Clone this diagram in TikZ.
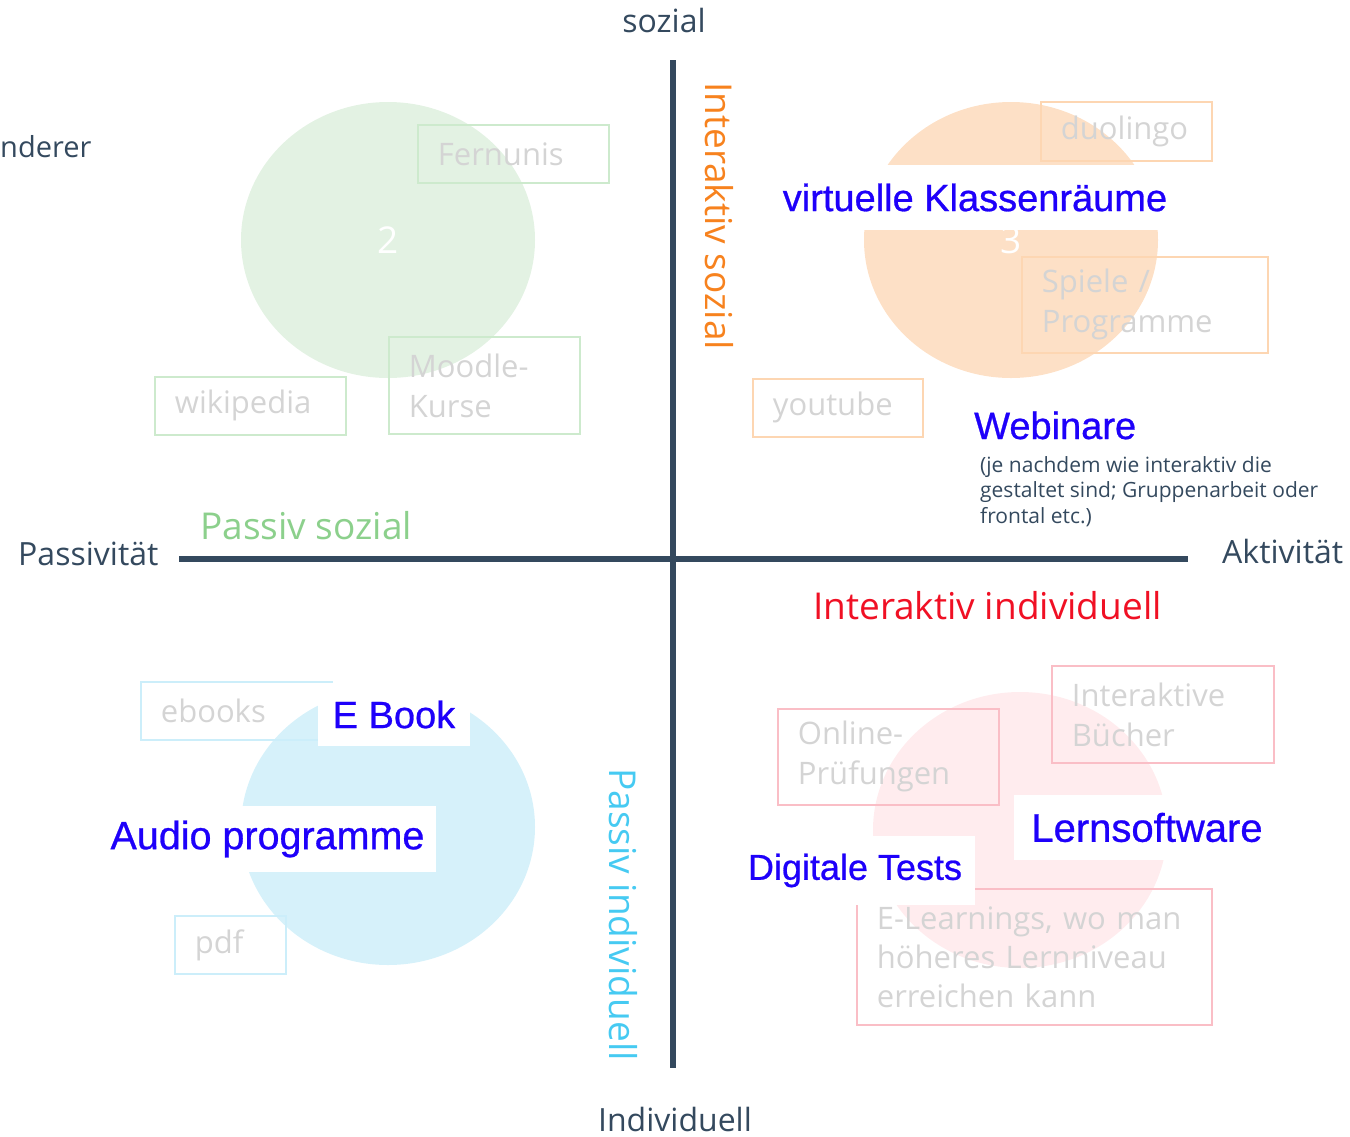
\documentclass[tikz,border=0pt]{standalone}
\usepackage{fontspec}
\setmainfont{Open Sans}
\newfontfamily\labelfont[FakeBold=0.7]{Liberation Sans}
\usetikzlibrary{shapes.geometric}

\definecolor{axiscol}{RGB}{52,73,94}
\definecolor{itemgray}{RGB}{212,212,212}
\definecolor{tagblue}{RGB}{30,0,250}
\definecolor{greenfill}{RGB}{227,242,227}
\definecolor{greenline}{RGB}{205,234,205}
\definecolor{greentext}{RGB}{140,208,140}
\definecolor{orangefill}{RGB}{253,224,198}
\definecolor{orangeline}{RGB}{253,214,178}
\definecolor{orangetext}{RGB}{247,130,30}
\definecolor{pinkfill}{RGB}{255,236,238}
\definecolor{pinkline}{RGB}{250,190,198}
\definecolor{redtext}{RGB}{240,16,36}
\definecolor{cyanfill}{RGB}{214,241,250}
\definecolor{cyanline}{RGB}{204,238,250}
\definecolor{cyantext}{RGB}{70,202,242}

\begin{document}
\begin{tikzpicture}[
  x=1pt, y=-1pt,
  every node/.style={inner sep=0pt},
  axislabel/.style={text=axiscol, font=\fontsize{32}{38}\selectfont},
  blob/.style={ellipse, fill=#1, minimum width=294pt, minimum height=276pt,
    text=white, font=\fontsize{37}{44}\selectfont},
  item/.style={draw=#1, line width=1.8pt, anchor=north west, inner xsep=20pt,
    align=left, text=itemgray, font=\fontsize{31}{40}\selectfont},
  tag/.style={fill=white, text=tagblue, font=\labelfont\fontsize{38}{44}\selectfont},
  quadrant/.style={text=#1, font=\fontsize{37}{44}\selectfont}
]
\useasboundingbox (0,0) rectangle (1350,1136);

\node[blob=greenfill] (social2) at (388,240) {2};
\node[blob=orangefill] (social3) at (1011,240) {3};
\node[blob=cyanfill] (single1) at (388,827) {};
\node[blob=pinkfill] (single4) at (1020,830) {};

\node[item=greenline, text width=151pt, minimum height=58pt] (fernunis) at (417,124) {Fernunis};
\node[item=greenline, text width=151pt, minimum height=97pt] (moodle) at (388,336) {Moodle-\\Kurse};
\node[item=greenline, text width=151pt, minimum height=58pt] (wiki) at (154,376) {wikipedia};
\node[item=orangeline, text width=131pt, minimum height=59pt] (duolingo) at (1040,101) {duolingo};
\node[item=orangeline, text width=206pt, minimum height=96pt] (spiele) at (1021,256) {Spiele /\\Programme};
\node[item=orangeline, text width=130pt, minimum height=58pt] (youtube) at (752,378) {youtube};
\node[item=cyanline, text width=151pt, minimum height=58pt] (ebooks) at (140,681) {ebooks};
\node[item=cyanline, text width=71pt, minimum height=58pt] (pdf) at (174,915) {pdf};
\node[item=pinkline, text width=181pt, minimum height=96pt] (online) at (777,708) {Online-\\Prüfungen};
\node[item=pinkline, text width=182pt, minimum height=97pt] (buecher) at (1051,665) {Interaktive\\Bücher};
\node[item=pinkline, text width=315pt, minimum height=136pt, font=\fontsize{31}{39}\selectfont]
  (elearn) at (856,888) {E-Learnings, wo man\\höheres Lernniveau\\erreichen kann};

\coordinate (top) at (673,60);
\coordinate (bottom) at (673,1068);
\coordinate (left) at (179,559);
\coordinate (right) at (1188,559);
\draw[axiscol, line width=6pt] (top) -- (bottom);
\draw[axiscol, line width=6pt] (left) -- (right);

\node[axislabel, anchor=base] (sozial) at (664,32) {sozial};
\node[axislabel, anchor=base] (indiv) at (675,1131) {Individuell};
\node[axislabel, anchor=base west] (passiv) at (18,565) {Passivität};
\node[axislabel, anchor=base west] (aktiv) at (1222,563) {Aktivität};
\node[axislabel, anchor=base west, font=\fontsize{29}{36}\selectfont] (nderer) at (0,157) {nderer};

\node[quadrant=greentext, anchor=base west] (q2) at (200,539) {Passiv sozial};
\node[quadrant=orangetext, anchor=base west, rotate=-90] (q3) at (705,82) {Interaktiv sozial};
\node[quadrant=redtext, anchor=base west] (q4) at (813,619) {Interaktiv individuell};
\node[quadrant=cyantext, anchor=base west, rotate=-90] (q1) at (609,768) {Passiv individuell};

\node[tag, minimum width=428pt, minimum height=65pt] (klassen) at (975,197.5) {virtuelle Klassenräume};
\node[tag, anchor=base west] (webinar) at (974,439) {Webinare};
\node[anchor=base west, align=left, text=axiscol, font=\fontsize{21}{25.5}\selectfont] (note) at (980,523)
  {(je nachdem wie interaktiv die\\gestaltet sind; Gruppenarbeit oder\\frontal etc.)};
\node[tag, minimum width=152pt, minimum height=63pt] (ebook) at (394,714.5) {E Book};
\node[tag, minimum width=337pt, minimum height=66pt, font=\labelfont\fontsize{39.5}{44}\selectfont] (audio) at (267.5,839) {Audio programme};
\node[tag, minimum width=266pt, minimum height=65pt, font=\labelfont\fontsize{40}{44}\selectfont] (lernsw) at (1147,827.5) {Lernsoftware};
\node[tag, minimum width=240pt, minimum height=69pt, font=\labelfont\fontsize{36}{42}\selectfont] (digital) at (855,870.5) {Digitale Tests};
\end{tikzpicture}
\end{document}
